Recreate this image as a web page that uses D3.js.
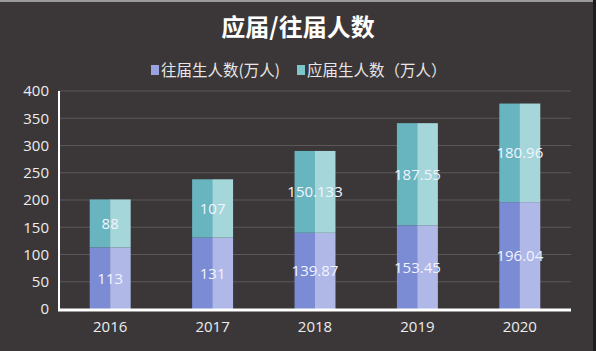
<!DOCTYPE html>
<html>
<head>
<meta charset="utf-8">
<script src="https://cdn.jsdelivr.net/npm/d3@7"></script>
<style>
  body { margin: 0; background: #3b3738; }
  svg { display: block; font-family: "Noto Sans CJK SC", "Open Sans", sans-serif; }
</style>
</head>
<body>
<div id="chart"></div>
<script>
// data
var years = ["2016", "2017", "2018", "2019", "2020"];
var pastGrads = [113, 131, 139.87, 153.45, 196.04];      // 往届生人数
var freshGrads = [88, 107, 150.133, 187.55, 180.96];     // 应届生人数
var pastLabels = ["113", "131", "139.87", "153.45", "196.04"];
var freshLabels = ["88", "107", "150.133", "187.55", "180.96"];
var yTicks = [0, 50, 100, 150, 200, 250, 300, 350, 400];

var W = 596, H = 351;
var margin = { top: 91, right: 25, bottom: 42, left: 59 },
    width = W - margin.left - margin.right,
    height = H - margin.top - margin.bottom;

var root = d3.select("#chart").append("svg")
    .attr("width", W)
    .attr("height", H);

root.append("rect").attr("width", W).attr("height", H).attr("fill", "#3b3738");
// thin light strip at top, dark strip at right (screenshot frame)
root.append("rect").attr("width", W).attr("height", 2).attr("fill", "#9a9a9a");
root.append("rect").attr("x", W - 3).attr("width", 3).attr("height", H).attr("fill", "#1e1c1d");

// title
root.append("text")
    .attr("x", 298).attr("y", 36)
    .attr("text-anchor", "middle")
    .style("font-size", "24px")
    .style("font-weight", "bold")
    .style("fill", "#ffffff")
    .text("应届/往届人数");

// legend
var legend = [
    { name: "往届生人数(万人)", color: "#9aa2e0", x: 151 },
    { name: "应届生人数（万人）", color: "#7cc6c9", x: 297 }
];
var lg = root.selectAll(".lg").data(legend).enter().append("g")
    .attr("transform", d => `translate(${d.x},70)`);
lg.append("rect").attr("x", 0).attr("y", -5).attr("width", 8).attr("height", 10)
    .attr("fill", d => d.color);
lg.append("text").attr("x", 10).attr("y", 5.5)
    .style("font-size", "15.5px").style("fill", "#e6e6e6")
    .text(d => d.name);

var svg = root.append("g")
    .attr("transform", `translate(${margin.left},${margin.top})`);

var x = d3.scaleBand().domain(years).range([0, width]).paddingInner(0.6).paddingOuter(0.3);
var y = d3.scaleLinear().domain([0, 400]).range([height, 0]);

// grid
svg.selectAll(".grid").data(yTicks.slice(1)).enter().append("line")
    .attr("x1", 0).attr("x2", width)
    .attr("y1", d => y(d)).attr("y2", d => y(d))
    .attr("stroke", "#5c5758").attr("stroke-width", 1);

// y axis labels
var yAxis = svg.append("g").call(d3.axisLeft(y).tickValues(yTicks).tickSize(0).tickPadding(10));
yAxis.select(".domain").remove();
yAxis.selectAll("text").style("font-size", "15px").style("fill", "#ececec")
    .style("font-family", "'Open Sans', sans-serif");

// bars
var data = years.map((yr, i) => ({ year: yr, past: pastGrads[i], fresh: freshGrads[i], pl: pastLabels[i], fl: freshLabels[i] }));
var bw = x.bandwidth();

var g = svg.selectAll(".bar").data(data).enter().append("g")
    .attr("transform", d => `translate(${x(d.year)},0)`);

// bottom segment (往届)
g.append("rect").attr("x", 0).attr("width", bw / 2 + 0.5)
    .attr("y", d => y(d.past)).attr("height", d => y(0) - y(d.past)).attr("fill", "#7b8bd4");
g.append("rect").attr("x", bw / 2).attr("width", bw / 2)
    .attr("y", d => y(d.past)).attr("height", d => y(0) - y(d.past)).attr("fill", "#b0b8e8");
// top segment (应届)
g.append("rect").attr("x", 0).attr("width", bw / 2 + 0.5)
    .attr("y", d => y(d.past + d.fresh)).attr("height", d => y(d.past) - y(d.past + d.fresh)).attr("fill", "#68b5bf");
g.append("rect").attr("x", bw / 2).attr("width", bw / 2)
    .attr("y", d => y(d.past + d.fresh)).attr("height", d => y(d.past) - y(d.past + d.fresh)).attr("fill", "#a5d7da");

// value labels
g.append("text").attr("x", bw / 2).attr("y", d => y(d.past / 2) + 5.5)
    .attr("text-anchor", "middle").style("font-size", "15px").style("fill", "#f2f4ff")
    .style("font-family", "'Open Sans', sans-serif")
    .text(d => d.pl);
g.append("text").attr("x", bw / 2).attr("y", d => y(d.past + d.fresh / 2) + 5.5)
    .attr("text-anchor", "middle").style("font-size", "15px").style("fill", "#f2f4ff")
    .style("font-family", "'Open Sans', sans-serif")
    .text(d => d.fl);

// axes lines
svg.append("line").attr("x1", 0).attr("x2", 0).attr("y1", 0).attr("y2", height + 1)
    .attr("stroke", "#ffffff").attr("stroke-width", 2);
svg.append("line").attr("x1", -1).attr("x2", width).attr("y1", height + 1).attr("y2", height + 1)
    .attr("stroke", "#ffffff").attr("stroke-width", 3);

// x axis labels
var xAxis = svg.append("g").attr("transform", `translate(0,${height})`)
    .call(d3.axisBottom(x).tickSize(0).tickPadding(12));
xAxis.select(".domain").remove();
xAxis.selectAll("text").style("font-size", "15px").style("fill", "#ececec")
    .style("font-family", "'Open Sans', sans-serif");
</script>
</body>
</html>
